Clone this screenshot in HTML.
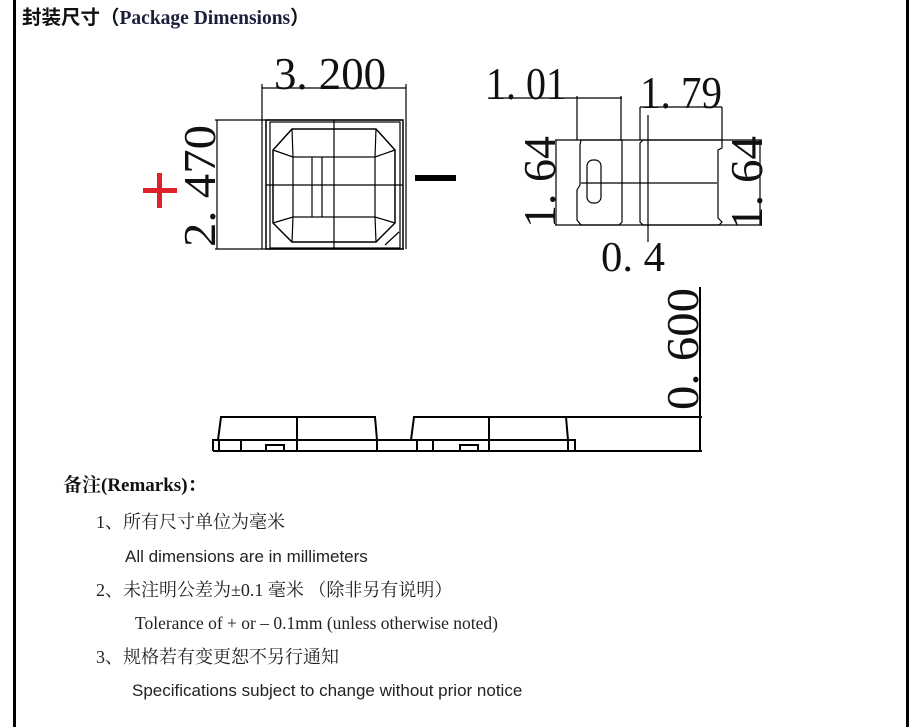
<!DOCTYPE html>
<html><head><meta charset="utf-8"><style>
html,body{margin:0;padding:0;background:#fff;width:919px;height:727px;overflow:hidden;position:relative}
.t{position:absolute;font-family:"Liberation Serif","Noto Serif CJK SC",serif;color:#222;white-space:nowrap;line-height:1}
</style></head><body>
<div style="position:absolute;left:13px;top:0;width:3px;height:727px;background:#000"></div>
<div style="position:absolute;left:906px;top:0;width:3px;height:727px;background:#000"></div>
<div class="t" style="left:22px;top:9px;font-size:19.5px;font-weight:bold;color:#111;font-family:'Liberation Serif','Noto Sans CJK SC',serif">封装尺寸（<span style="color:#1a1f3a">Package Dimensions</span>）</div>
<svg width="919" height="727" style="position:absolute;left:0;top:0" xmlns="http://www.w3.org/2000/svg">
<g stroke="#000" fill="none" stroke-width="1.2">
<line x1="262" y1="84" x2="262" y2="249"/><line x1="406" y1="84" x2="406" y2="249"/>
<line x1="262" y1="88" x2="406" y2="88"/>
<line x1="215" y1="120" x2="402" y2="120"/><line x1="215" y1="249" x2="404" y2="249"/>
<line x1="217" y1="120" x2="217" y2="249"/>
<rect x="266" y="120" width="137" height="129" stroke-width="1.5"/>
<rect x="270" y="122" width="130" height="126"/>
<polygon points="292,129 376,129 395,150 395,223 376,242 292,242 273,223 273,150" stroke-width="1.5"/>
<rect x="293" y="157" width="82" height="60"/>
<line x1="292" y1="129" x2="293" y2="157"/><line x1="273" y1="150" x2="293" y2="157"/>
<line x1="376" y1="129" x2="375" y2="157"/><line x1="395" y1="150" x2="375" y2="157"/>
<line x1="292" y1="242" x2="293" y2="217"/><line x1="273" y1="223" x2="293" y2="217"/>
<line x1="376" y1="242" x2="375" y2="217"/><line x1="395" y1="223" x2="375" y2="217"/>
<line x1="334" y1="120" x2="334" y2="249"/><line x1="266" y1="185" x2="403" y2="185"/>
<line x1="312" y1="157" x2="312" y2="217"/><line x1="322" y1="157" x2="322" y2="217"/>
<line x1="385" y1="245" x2="399" y2="232"/>
<line x1="577" y1="96" x2="577" y2="140"/><line x1="621" y1="96" x2="621" y2="140"/>
<line x1="488" y1="98" x2="622" y2="98"/>
<line x1="640" y1="107" x2="722" y2="107"/><line x1="722" y1="107" x2="722" y2="140"/><line x1="640" y1="107" x2="640" y2="140"/>
<line x1="555" y1="140" x2="762" y2="140"/><line x1="555" y1="225" x2="762" y2="225"/>
<line x1="556" y1="140" x2="556" y2="225"/><line x1="760" y1="140" x2="760" y2="225"/>
<path d="M581,140 L622,140 L622,222 L619,225 L581,225 L577,220 L577,190 L580,185 L580,145 Z"/>
<path d="M643,140 L722,140 L722,148 L718,150 L718,218 L722,222 L719,225 L643,225 L640,222 L640,143 Z"/>
<rect x="587" y="160" width="14" height="43" rx="6"/>
<line x1="581" y1="183" x2="717" y2="183"/>
<line x1="648" y1="115" x2="648" y2="242"/>
<g stroke-width="2">
<path d="M213,451 L213,440 L575,440 L575,451"/>
<line x1="213" y1="451" x2="702" y2="451"/>
<path d="M218,440 L221,417 L375,417 L377,440"/>
<path d="M411,440 L414,417 L566,417 L568,440"/>
<line x1="297" y1="416" x2="297" y2="452"/><line x1="489" y1="416" x2="489" y2="452"/>
<line x1="219" y1="440" x2="219" y2="451"/><line x1="241" y1="440" x2="241" y2="451"/>
<line x1="417" y1="440" x2="417" y2="451"/><line x1="433" y1="440" x2="433" y2="451"/>
<line x1="377" y1="440" x2="377" y2="451"/><line x1="568" y1="440" x2="568" y2="451"/>
<path d="M266,451 L266,445 L284,445 L284,451"/><path d="M460,451 L460,445 L478,445 L478,451"/>
<line x1="566" y1="417" x2="702" y2="417"/>
<line x1="700" y1="287" x2="700" y2="452"/>
</g>
</g>
<g font-family="Liberation Serif,serif" fill="#111">
<text x="274" y="89" font-size="46" textLength="112" lengthAdjust="spacingAndGlyphs">3. 200</text>
<text transform="translate(215,247) rotate(-90)" font-size="46" textLength="122" lengthAdjust="spacingAndGlyphs">2. 470</text>
<text x="486" y="99" font-size="46" textLength="80" lengthAdjust="spacingAndGlyphs">1. 01</text>
<text x="640" y="108" font-size="46" textLength="82" lengthAdjust="spacingAndGlyphs">1. 79</text>
<text transform="translate(555,228) rotate(-90)" font-size="46" textLength="92" lengthAdjust="spacingAndGlyphs">1. 64</text>
<text transform="translate(762,230) rotate(-90)" font-size="46" textLength="94" lengthAdjust="spacingAndGlyphs">1. 64</text>
<text x="601" y="271" font-size="42" textLength="64" lengthAdjust="spacingAndGlyphs">0. 4</text>
<text transform="translate(698,410) rotate(-90)" font-size="46" textLength="122" lengthAdjust="spacingAndGlyphs">0. 600</text>
</g>
<rect x="415" y="175" width="41" height="6" fill="#000"/>
<rect x="143" y="188" width="34" height="5" fill="#e0202a"/>
<rect x="157" y="173" width="5" height="35" fill="#e0202a"/>
</svg>
<div class="t" style="left:63px;top:476px;font-size:19px;font-weight:bold;color:#111">备注(Remarks)：</div>
<div class="t" style="left:96px;top:513px;font-size:18px">1、所有尺寸单位为毫米</div>
<div class="t" style="left:125px;top:548px;font-size:17px;font-family:'Liberation Sans',sans-serif">All dimensions are in millimeters</div>
<div class="t" style="left:96px;top:581px;font-size:18px">2、未注明公差为±0.1 毫米 （除非另有说明）</div>
<div class="t" style="left:135px;top:615px;font-size:17.5px">Tolerance of + or – 0.1mm (unless otherwise noted)</div>
<div class="t" style="left:96px;top:648px;font-size:18px">3、规格若有变更恕不另行通知</div>
<div class="t" style="left:132px;top:682px;font-size:17px;font-family:'Liberation Sans',sans-serif">Specifications subject to change without prior notice</div>
</body></html>
